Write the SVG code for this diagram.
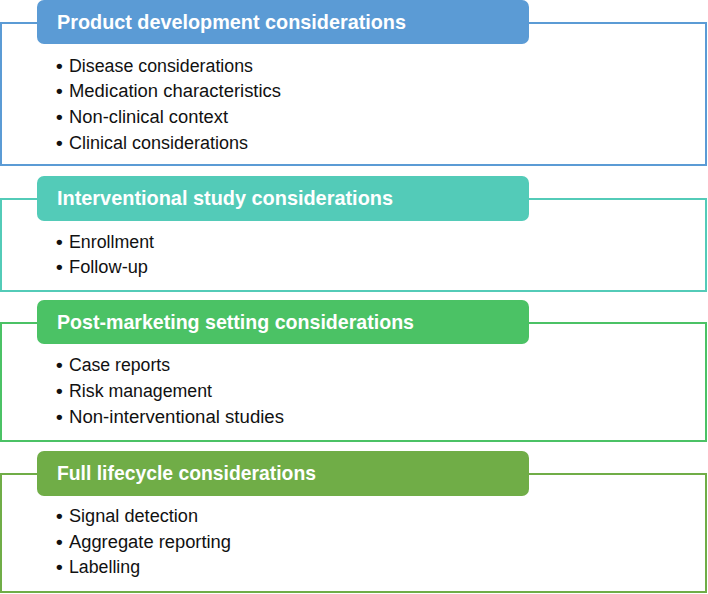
<svg xmlns="http://www.w3.org/2000/svg" width="708" height="594" viewBox="0 0 708 594">
<style>
.outer{fill:#fff;stroke-width:2}
.hdr{stroke:none}
.title{font-family:"Liberation Sans",Arial,sans-serif;font-weight:bold;font-size:21px;fill:#fff}
.item{font-family:"Liberation Sans",Arial,sans-serif;font-size:18px;fill:#111}
.bul{font-family:"Liberation Sans",Arial,sans-serif;font-size:19px;font-weight:bold;fill:#111}
</style>
<rect width="708" height="594" fill="#fff"/>
<g id="product-development">
<rect class="outer" x="1" y="23" width="705" height="142" stroke="#5B9BD5"/>
<rect class="hdr" x="37" y="0" width="492" height="44" rx="7" fill="#5B9BD5"/>
<text class="title" x="57" y="29" textLength="349" lengthAdjust="spacingAndGlyphs">Product development considerations</text>
<text class="bul" x="56" y="72">•</text><text class="item" x="69" y="72" textLength="184" lengthAdjust="spacingAndGlyphs">Disease considerations</text>
<text class="bul" x="56" y="97">•</text><text class="item" x="69" y="97" textLength="212" lengthAdjust="spacingAndGlyphs">Medication characteristics</text>
<text class="bul" x="56" y="123">•</text><text class="item" x="69" y="123" textLength="159" lengthAdjust="spacingAndGlyphs">Non-clinical context</text>
<text class="bul" x="56" y="149">•</text><text class="item" x="69" y="149" textLength="179" lengthAdjust="spacingAndGlyphs">Clinical considerations</text>
</g>
<g id="interventional-study">
<rect class="outer" x="1" y="199" width="705" height="92" stroke="#53CBB8"/>
<rect class="hdr" x="37" y="176" width="492" height="45" rx="7" fill="#53CBB8"/>
<text class="title" x="57" y="205" textLength="336" lengthAdjust="spacingAndGlyphs">Interventional study considerations</text>
<text class="bul" x="56" y="248">•</text><text class="item" x="69" y="248" textLength="85" lengthAdjust="spacingAndGlyphs">Enrollment</text>
<text class="bul" x="56" y="273">•</text><text class="item" x="69" y="273" textLength="79" lengthAdjust="spacingAndGlyphs">Follow-up</text>
</g>
<g id="post-marketing">
<rect class="outer" x="1" y="323" width="705" height="118" stroke="#4BC265"/>
<rect class="hdr" x="37" y="300" width="492" height="44" rx="7" fill="#4BC265"/>
<text class="title" x="57" y="329" textLength="357" lengthAdjust="spacingAndGlyphs">Post-marketing setting considerations</text>
<text class="bul" x="56" y="371">•</text><text class="item" x="69" y="371" textLength="101" lengthAdjust="spacingAndGlyphs">Case reports</text>
<text class="bul" x="56" y="397">•</text><text class="item" x="69" y="397" textLength="143" lengthAdjust="spacingAndGlyphs">Risk management</text>
<text class="bul" x="56" y="423">•</text><text class="item" x="69" y="423" textLength="215" lengthAdjust="spacingAndGlyphs">Non-interventional studies</text>
</g>
<g id="full-lifecycle">
<rect class="outer" x="1" y="474" width="705" height="118" stroke="#70AD47"/>
<rect class="hdr" x="37" y="451" width="492" height="45" rx="7" fill="#70AD47"/>
<text class="title" x="57" y="480" textLength="259" lengthAdjust="spacingAndGlyphs">Full lifecycle considerations</text>
<text class="bul" x="56" y="522">•</text><text class="item" x="69" y="522" textLength="129" lengthAdjust="spacingAndGlyphs">Signal detection</text>
<text class="bul" x="56" y="548">•</text><text class="item" x="69" y="548" textLength="162" lengthAdjust="spacingAndGlyphs">Aggregate reporting</text>
<text class="bul" x="56" y="573">•</text><text class="item" x="69" y="573" textLength="71" lengthAdjust="spacingAndGlyphs">Labelling</text>
</g>
<g id="connectors"></g>
</svg>
